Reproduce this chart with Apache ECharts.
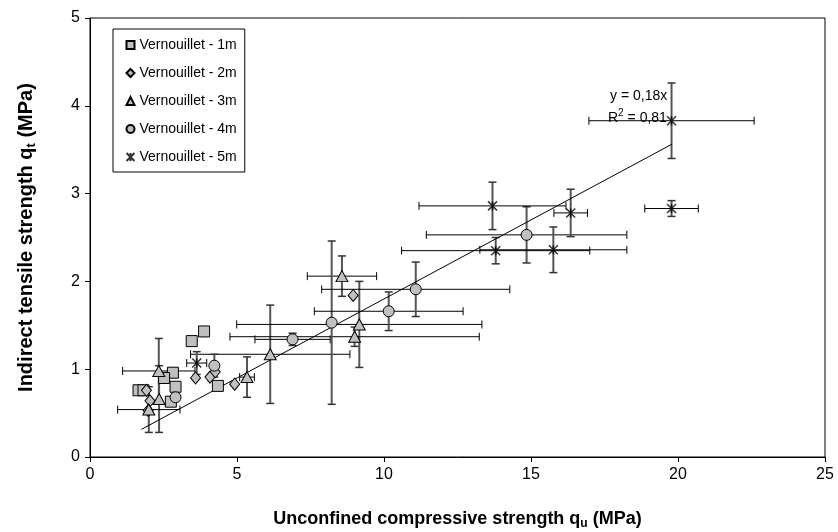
<!DOCTYPE html>
<html><head><meta charset="utf-8">
<script src="https://cdn.jsdelivr.net/npm/echarts@6/dist/echarts.min.js"></script>
<style>html,body{margin:0;padding:0;background:#fff}#c{width:838px;height:532px}</style>
</head><body><div id="c"></div>
<script>
// [x (MPa), y (MPa)]
const squares1m = [[3.88,1.43],[3.46,1.32],[2.82,0.96],[2.52,0.90],[2.91,0.80],[1.65,0.76],[1.82,0.76],[2.75,0.63],[4.35,0.81]];
const diamonds2m = [[1.92,0.76],[2.04,0.64],[1.98,0.53],[3.59,0.90],[4.08,0.91],[4.26,0.97],[4.92,0.83],[8.95,1.84]];
// [x, y, x error, y error]
const triangles3m = [[2.34,0.98,1.23,0.37],[2.35,0.66,0,0.38],[2.0,0.54,1.06,0.26],[5.34,0.91,0.25,0.23],[6.13,1.17,2.71,0.56],[8.57,2.06,1.18,0.23],[9.16,1.51,4.17,0.49],[9.0,1.37,4.24,0.11]];
const circles4m = [[2.91,0.68,0,0],[4.23,1.04,0,0.13],[6.89,1.34,1.28,0.07],[8.22,1.53,0,0.93],[10.16,1.66,2.53,0.22],[11.08,1.91,3.2,0.31],[14.85,2.53,3.41,0.32]];
const stars5m = [[3.63,1.07,0.34,0.13],[13.69,2.86,2.5,0.27],[13.8,2.35,3.2,0.15],[15.76,2.36,2.5,0.26],[16.35,2.78,0.57,0.27],[19.78,3.83,2.81,0.43],[19.78,2.83,0.91,0.09]];
const trendLine = [[1.75,0.315],[19.8,3.564]];
const seriesNames = ['Vernouillet - 1m','Vernouillet - 2m','Vernouillet - 3m','Vernouillet - 4m','Vernouillet - 5m'];
const xTicks = {min:0,max:25,interval:5};
const yTicks = {min:0,max:5,interval:1};

const FONT = '"Liberation Sans", Arial, sans-serif';
const FILL = '#c0c0c0';
const STAR = 'path://M0,0L10,10M10,0L0,10M5,0L5,10M0,0L10,10';

function errRender(params, api){
  const x = api.value(0), y = api.value(1), ex = api.value(2), ey = api.value(3);
  const ch = [];
  const cap = 4;
  if (ex > 0){
    const a = api.coord([x-ex,y]), b = api.coord([x+ex,y]);
    const st = {stroke:'#000', lineWidth:1};
    ch.push({type:'line', shape:{x1:a[0],y1:a[1],x2:b[0],y2:b[1]}, style:st});
    ch.push({type:'line', shape:{x1:a[0],y1:a[1]-cap,x2:a[0],y2:a[1]+cap}, style:st});
    ch.push({type:'line', shape:{x1:b[0],y1:b[1]-cap,x2:b[0],y2:b[1]+cap}, style:st});
  }
  if (ey > 0){
    const a = api.coord([x,y-ey]), b = api.coord([x,y+ey]);
    const st = {stroke:'#555', lineWidth:2};
    const st2 = {stroke:'#333', lineWidth:1.5};
    ch.push({type:'line', shape:{x1:a[0],y1:a[1],x2:b[0],y2:b[1]}, style:st});
    ch.push({type:'line', shape:{x1:a[0]-cap,y1:a[1],x2:a[0]+cap,y2:a[1]}, style:st2});
    ch.push({type:'line', shape:{x1:b[0]-cap,y1:b[1],x2:b[0]+cap,y2:b[1]}, style:st2});
  }
  return {type:'group', children:ch};
}

function errSeries(data){
  return {type:'custom', renderItem:errRender, data:data, z:1, silent:true,
    encode:{x:0,y:1}, tooltip:{show:false}};
}
function scat(name, data, symbol, size){
  return {name:name, type:'scatter', data:data.map(d=>[d[0],d[1]]), symbol:symbol, symbolSize:size, z:3,
    itemStyle:{color:FILL, borderColor:'#000', borderWidth:1, opacity:1}};
}

const chart = echarts.init(document.getElementById('c'), null, {renderer:'canvas'});
chart.setOption({
  animation:false,
  backgroundColor:'#fff',
  textStyle:{fontFamily:FONT},
  grid:{left:90, right:13, top:18, bottom:75, show:true, borderColor:'#000', borderWidth:1, backgroundColor:'transparent',
    containLabel:false, outerBoundsMode:'none'},
  xAxis:{type:'value', min:xTicks.min, max:xTicks.max, interval:xTicks.interval,
    axisLine:{onZero:false, lineStyle:{color:'#000', width:1}},
    axisTick:{show:true, inside:false, length:5, lineStyle:{color:'#000'}},
    splitLine:{show:false},
    axisLabel:{color:'#000', fontSize:16, fontFamily:FONT, margin:10},
    name:'{b|Unconfined compressive strength q}{s|u}{b| (MPa)}',
    nameLocation:'middle', nameGap:51,
    nameTextStyle:{rich:{
      b:{fontSize:18, fontWeight:'bold', fontFamily:FONT, color:'#000', lineHeight:22},
      s:{fontSize:12, fontWeight:'bold', fontFamily:FONT, color:'#000', lineHeight:13, verticalAlign:'bottom'}}}
  },
  yAxis:{type:'value', min:yTicks.min, max:yTicks.max, interval:yTicks.interval,
    axisLine:{onZero:false, lineStyle:{color:'#000', width:1}},
    axisTick:{show:true, inside:false, length:5, lineStyle:{color:'#000'}},
    splitLine:{show:false},
    axisLabel:{color:'#000', fontSize:16, fontFamily:FONT, margin:10},
    name:'{b|Indirect tensile strength q}{s|t}{b| (MPa)}',
    nameLocation:'middle', nameGap:52,
    nameTextStyle:{rich:{
      b:{fontSize:20, fontWeight:'bold', fontFamily:FONT, color:'#000', lineHeight:24},
      s:{fontSize:13, fontWeight:'bold', fontFamily:FONT, color:'#000', lineHeight:14, verticalAlign:'bottom'}}}
  },
  legend:{orient:'vertical', left:113, top:29,
    backgroundColor:'#fff', borderColor:'#000', borderWidth:1, borderRadius:0,
    padding:[9,8,8,11], itemGap:14, itemWidth:8, itemHeight:8,
    textStyle:{fontSize:14, fontFamily:FONT, color:'#000'},
    data:seriesNames.map(n=>({name:n}))
  },
  graphic:[
    {type:'text', left:610, top:89, style:{text:'y = 0,18x', font:'14px '+FONT, fill:'#000'}},
    {type:'text', left:608, top:108, style:{
      text:'{n|R}{p|2}{n| = 0,81}',
      rich:{n:{fontSize:14, fontFamily:FONT, fill:'#000', lineHeight:17, verticalAlign:'bottom'},
            p:{fontSize:10, fontFamily:FONT, fill:'#000', lineHeight:17, verticalAlign:'top'}}}}
  ],
  series:[
    {type:'line', data:trendLine, symbol:'none', lineStyle:{color:'#000', width:1}, z:2, silent:true},
    errSeries(triangles3m), errSeries(circles4m), errSeries(stars5m),
    scat(seriesNames[0], squares1m, 'rect', 11),
    scat(seriesNames[1], diamonds2m, 'diamond', [10,12]),
    scat(seriesNames[2], triangles3m, 'triangle', [12,11]),
    scat(seriesNames[3], circles4m, 'circle', 11),
    Object.assign(scat(seriesNames[4], stars5m, STAR, 9), {itemStyle:{color:'none', borderColor:'#000', borderWidth:1.5}})
  ]
});
</script></body></html>
